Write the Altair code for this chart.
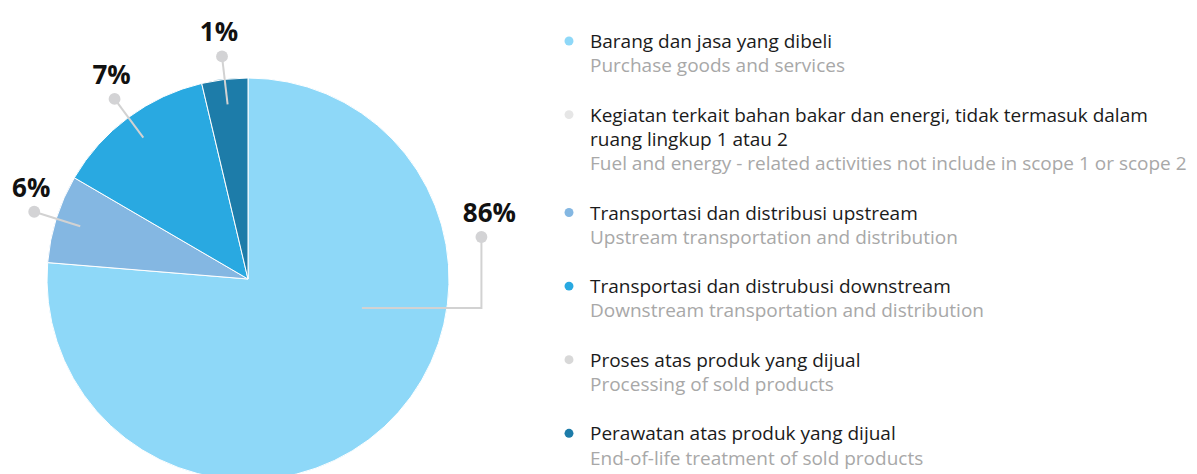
import math
import textwrap

import altair as alt
import pandas as pd

# ---------------- data ----------------
cat_id = [
    "Barang dan jasa yang dibeli",
    "Kegiatan terkait bahan bakar dan energi, tidak termasuk dalam ruang lingkup 1 atau 2",
    "Transportasi dan distribusi upstream",
    "Transportasi dan distrubusi downstream",
    "Proses atas produk yang dijual",
    "Perawatan atas produk yang dijual",
]
cat_en = [
    "Purchase goods and services",
    "Fuel and energy - related activities not include in scope 1 or scope 2",
    "Upstream transportation and distribution",
    "Downstream transportation and distribution",
    "Processing of sold products",
    "End-of-life treatment of sold products",
]
# angular share of each slice as drawn in the picture
slice_share = [76.3, 0, 7.1, 12.9, 0, 3.7]
# percentage labels printed next to the slices
pct_label = ["86%", "", "6%", "7%", "", "1%"]
colors = ["#8ed8f8", "#e6e6e6", "#84b7e2", "#29a9e1", "#d8d8d8", "#1d7ca9"]

# ---------------- layout ----------------
W, H = 1181, 466
M = 8                      # page margin
CX, CY, R = 248, 279, 201  # pie centre / radius (page pixels)
FONT = "Open Sans"
LEG_DOT_X, LEG_TEXT_X = 569, 590
LEG_Y0, LEG_STEP, LEG_GAP = 42, 24.3, 25
WRAP = 62

# callout geometry (radius factors / angles in degrees)
callout_default = dict(r_in=0.875, r_out=1.115, dx=-3)
callout_special = {"86%": dict(a_in=104.3, r_in=0.585, a_out=79.8, r_out=1.18, elbow=True, dx=8)}

xs = alt.Scale(domain=[M, M + W], range=[0, W], nice=False, zero=False)
ys = alt.Scale(domain=[M + H, M], nice=False, zero=False)


def polar(a_deg, r):
    a = math.radians(a_deg)
    return CX + r * R * math.sin(a), CY - r * R * math.cos(a)


# pie table
pie_df = pd.DataFrame(
    {"idx": range(len(cat_id)), "cat": cat_id, "share": slice_share}
)
pie_df = pie_df[pie_df.share > 0]

# callouts derived from slice angles
total = sum(slice_share)
line_rows, dot_rows = [], []
cum = 0.0
for i, s in enumerate(slice_share):
    if s <= 0:
        continue
    mid = (cum + s / 2) / total * 360
    cum += s
    lab = pct_label[i]
    if not lab:
        continue
    if lab in callout_special:
        c = callout_special[lab]
        p_in = polar(c["a_in"], c["r_in"])
        p_out = polar(c["a_out"], c["r_out"])
        pts = [p_in, (p_out[0], p_in[1]), p_out]
    else:
        c = callout_default
        p_in = polar(mid, c["r_in"])
        p_out = polar(mid, c["r_out"])
        pts = [p_in, p_out]
    for k, (px, py) in enumerate(pts):
        line_rows.append({"lab": lab, "seq": k, "px": px, "py": py})
    dot_rows.append({"lab": lab, "px": pts[-1][0], "py": pts[-1][1],
                     "tx": pts[-1][0] + c["dx"]})

line_df = pd.DataFrame(line_rows)
dot_df = pd.DataFrame(dot_rows)

# legend rows
leg_rows, leg_dots = [], []
line_idx = 0
for i, (t, e) in enumerate(zip(cat_id, cat_en)):
    t_lines = textwrap.wrap(t, WRAP)
    y_first = LEG_Y0 + LEG_STEP * line_idx + LEG_GAP * i
    leg_dots.append({"cat": t, "py": y_first - 1})
    for ln in t_lines:
        leg_rows.append({"text": ln, "kind": "title",
                         "py": LEG_Y0 + LEG_STEP * line_idx + LEG_GAP * i})
        line_idx += 1
    leg_rows.append({"text": e, "kind": "sub",
                     "py": LEG_Y0 + LEG_STEP * line_idx + LEG_GAP * i})
    line_idx += 1
leg_df = pd.DataFrame(leg_rows)
legdot_df = pd.DataFrame(leg_dots)

# ---------------- layers ----------------
pie = alt.Chart(pie_df).mark_arc(outerRadius=R, stroke="white", strokeWidth=1).encode(
    theta=alt.Theta("share:Q", stack=True),
    color=alt.Color("cat:N", scale=alt.Scale(domain=cat_id, range=colors), legend=None),
    order=alt.Order("idx:Q"),
    x=alt.value(CX - M),
    y=alt.value(CY - M),
)

lines = alt.Chart(line_df).mark_line(color="#d2d2d2", strokeWidth=2).encode(
    x=alt.X("px:Q", scale=xs, axis=None),
    y=alt.Y("py:Q", scale=ys, axis=None),
    detail="lab:N",
    order="seq:Q",
)

dots = alt.Chart(dot_df).mark_circle(size=140, color="#d3d3d5", opacity=1).encode(
    x=alt.X("px:Q", scale=xs, axis=None),
    y=alt.Y("py:Q", scale=ys, axis=None),
)

labels = alt.Chart(dot_df).mark_text(
    font=FONT, fontSize=26, fontWeight="bold", color="#111111",
    align="center", baseline="alphabetic", dy=-15,
).encode(
    x=alt.X("tx:Q", scale=xs, axis=None),
    y=alt.Y("py:Q", scale=ys, axis=None),
    text="lab:N",
)

leg_dot_layer = alt.Chart(legdot_df).mark_circle(size=80, opacity=1).encode(
    x=alt.value(LEG_DOT_X - M),
    y=alt.Y("py:Q", scale=ys, axis=None),
    color=alt.Color("cat:N", scale=alt.Scale(domain=cat_id, range=colors), legend=None),
)

leg_text = alt.Chart(leg_df).mark_text(
    font=FONT, fontSize=19, align="left", baseline="middle",
).encode(
    x=alt.value(LEG_TEXT_X - M),
    y=alt.Y("py:Q", scale=ys, axis=None),
    text="text:N",
    color=alt.Color("kind:N", scale=alt.Scale(domain=["title", "sub"],
                                              range=["#1b1b1b", "#a8a8a8"]), legend=None),
)

chart = (
    alt.layer(pie, lines, dots, labels, leg_dot_layer, leg_text)
    .resolve_scale(color="independent")
    .properties(width=W, height=H, padding=0, autosize=alt.AutoSizeParams(type="none"),
                background="white")
    .configure_view(stroke=None)
)

chart.save("out.html", embed_options={"renderer": "svg", "actions": False})
